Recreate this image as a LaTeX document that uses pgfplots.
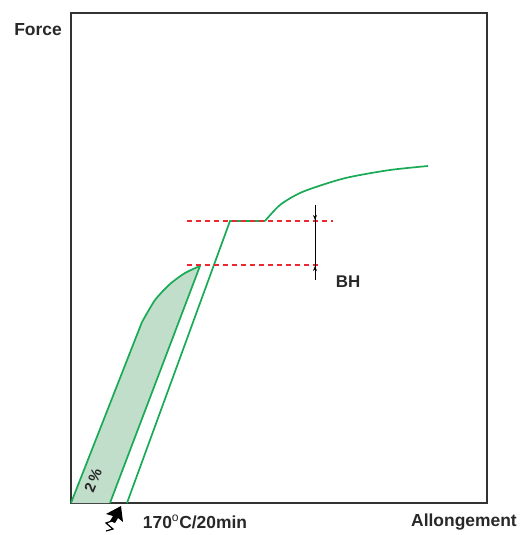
\documentclass[border=0pt]{standalone}
\usepackage{fontspec}
\setmainfont{Liberation Sans}
\usepackage{pgfplots}
\pgfplotsset{compat=1.18}
\usetikzlibrary{arrows.meta}
\definecolor{cgreen}{RGB}{24,170,84}
\definecolor{cfill}{RGB}{192,222,202}
\definecolor{cred}{RGB}{236,40,48}
\definecolor{ctext}{RGB}{40,40,40}
\begin{document}
\begin{tikzpicture}
\useasboundingbox (-71bp,-32bp) rectangle (452bp,503bp);
\begin{axis}[
  scale only axis,
  width=416bp, height=490bp,
  xmin=0, xmax=416, ymin=0, ymax=490,
  axis line style={line width=1.6bp, draw=black!80},
  ticks=none,
  clip=false,
]
% shaded region
\addplot[fill=cfill, draw=none] coordinates {
  (0,0) (71,181) (84,203) (99,219) (114,230) (129,237) (39,0)
} -- cycle;
% loading curve
\addplot[cgreen, line width=1.7bp, smooth, tension=0.4] coordinates {
  (71,181) (84,203) (99,219) (114,230) (129,237)
};
\addplot[cgreen, line width=1.7bp] coordinates {(0,0) (71,181)};
% unloading
\addplot[cgreen, line width=1.7bp] coordinates {(129,237) (39,0)};
% reloading
\addplot[cgreen, line width=1.7bp] coordinates {(56,0) (159,282) (194,282)};
\addplot[cgreen, line width=1.7bp, smooth] coordinates {
  (194,282) (209,298) (229,310) (254,319) (279,326) (319,333) (357,337)
};
% red dashed lines
\addplot[cred, line width=1.6bp, dash pattern=on 5bp off 4bp] coordinates {(116,282) (262,282)};
\addplot[cred, line width=1.6bp, dash pattern=on 5bp off 4bp] coordinates {(116,238) (249,238)};
% BH arrow
\draw[black, line width=0.9bp] (axis cs:244,298) -- (axis cs:244,223);
\draw[black, line width=0.9bp, -{Stealth[length=5bp,width=4bp]}] (axis cs:244,294) -- (axis cs:244,283);
\draw[black, line width=0.9bp, -{Stealth[length=5bp,width=4bp]}] (axis cs:244,227) -- (axis cs:244,237);
\node[font=\bfseries\fontsize{17}{19}\selectfont, text=ctext] at (axis cs:277,221) {BH};
% 2 %
\node[font=\bfseries\fontsize{15}{17}\selectfont, text=ctext, rotate=68, inner sep=0pt] at (axis cs:22,23) {2\,\%};
\end{axis}
\node[font=\bfseries\fontsize{17.5}{19}\selectfont, text=ctext] at (-33bp,473bp) {Force};
\node[font=\bfseries\fontsize{17.5}{19}\selectfont, text=ctext] at (393bp,-19bp) {Allongement};
\node[font=\bfseries\fontsize{17.5}{19}\selectfont, text=ctext] at (124bp,-19bp) {170$^{\mathrm{o}}$C/20min};
% arrow symbol
\fill[black] (50bp,-3bp) -- (35bp,-11bp) -- (42bp,-13bp) -- (39bp,-18bp) -- (44bp,-20bp) -- (47bp,-15bp) -- (52bp,-19bp) -- cycle;
\draw[black, line width=1.2bp] (41bp,-18bp) -- (35bp,-20bp) -- (42bp,-26bp) -- (35bp,-28bp);
\end{tikzpicture}
\end{document}
